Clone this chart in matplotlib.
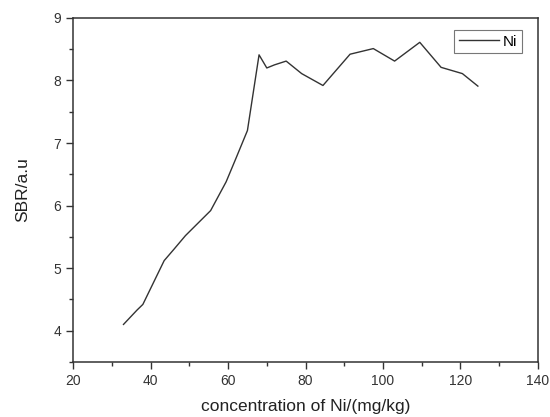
import matplotlib
matplotlib.use('Agg')
import matplotlib.pyplot as plt
from matplotlib.ticker import MultipleLocator

# concentration of Ni (mg/kg) vs SBR
conc = [33, 36.5, 38, 43.5, 46, 49, 55.5, 59.5, 62, 65, 68, 70, 72, 75, 79, 84.5,
        91.5, 97.5, 103, 109.5, 115, 120.5, 124.5]
sbr = [4.1, 4.33, 4.42, 5.12, 5.3, 5.52, 5.92, 6.38, 6.75, 7.2, 8.41, 8.2, 8.25, 8.31,
       8.11, 7.92, 8.42, 8.51, 8.31, 8.61, 8.21, 8.11, 7.91]

plt.rcParams['font.family'] = ['Liberation Sans', 'DejaVu Sans']

fig = plt.figure(figsize=(5.5, 4.17), dpi=100)
ax = fig.add_axes([0.133, 0.132, 0.845, 0.825])

ax.plot(conc, sbr, color='#333333', linewidth=1.0, label='Ni')

ax.set_xlim(20, 140)
ax.set_ylim(3.5, 9)
ax.xaxis.set_major_locator(MultipleLocator(20))
ax.xaxis.set_minor_locator(MultipleLocator(10))
ax.yaxis.set_major_locator(MultipleLocator(1))
ax.yaxis.set_minor_locator(MultipleLocator(0.5))
ax.tick_params(which='both', direction='out', top=False, right=False,
               color='#333333', labelcolor='#333333', labelsize=10)
ax.tick_params(which='major', length=5, width=1)
ax.tick_params(which='minor', length=3, width=1)
for s in ax.spines.values():
    s.set_color('#333333')
    s.set_linewidth(1.1)

ax.set_xlabel('concentration of Ni/(mg/kg)', fontsize=12.5, color='#222222', labelpad=8)
ax.set_ylabel('SBR/a.u', fontsize=12.5, color='#222222', labelpad=17)

leg = ax.legend(loc='upper right', bbox_to_anchor=(0.966, 0.965), fancybox=False,
                edgecolor='#555555', fontsize=11, handlelength=2.6,
                borderpad=0.3, handletextpad=0.3, borderaxespad=0)
leg.get_frame().set_linewidth(0.8)

fig.savefig('out.png', dpi=100)
